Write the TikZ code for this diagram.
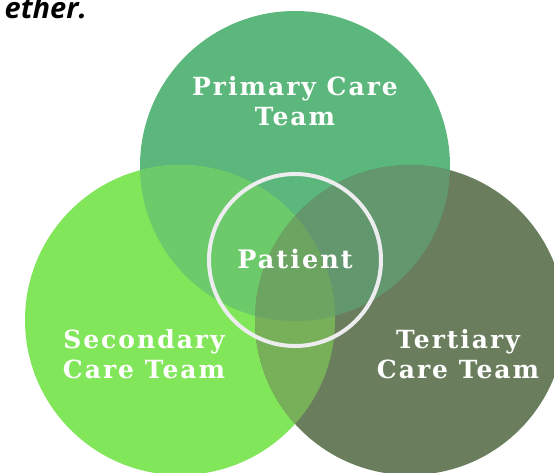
\documentclass[tikz,border=0pt]{standalone}
\usepackage{fontspec}
\newfontfamily\labelfont[LetterSpace=8]{DejaVu Serif}
\newfontfamily\titlefont{Open Sans}
\definecolor{colT}{HTML}{5BB77B}
\definecolor{colL}{HTML}{82E65A}
\definecolor{colR}{HTML}{6A7D5D}
\definecolor{colTL}{HTML}{6CCA6B}
\definecolor{colTR}{HTML}{63976E}
\definecolor{colLR}{HTML}{78B05A}
\definecolor{colTLR}{HTML}{6CA462}
\definecolor{ringcol}{HTML}{EDEDF0}
\tikzset{
  lbl/.style={text=white, inner sep=0pt, anchor=base, font=\labelfont\bfseries\fontsize{25}{30}\selectfont},
  plbl/.style={lbl, font=\labelfont\bfseries\fontsize{25.5}{30}\selectfont},
  ttl/.style={text=black, inner sep=0pt, anchor=base east, font=\titlefont\bfseries\itshape\fontsize{29}{34}\selectfont},
  ring/.style={draw=ringcol, line width=4pt}
}
\begin{document}
\begin{tikzpicture}[x=1pt,y=-1pt]
\useasboundingbox (0,0) rectangle (554,472);
\clip (0,0) rectangle (554,472);
\coordinate (cT) at (295,166);
\coordinate (cL) at (180,320);
\coordinate (cR) at (410,320);
\coordinate (cP) at (295,260);
% base circles
\fill[colT] (cT) circle[radius=155pt];
\fill[colL] (cL) circle[radius=155pt];
\fill[colR] (cR) circle[radius=155pt];
% pairwise overlaps
\begin{scope}
  \clip (cT) circle[radius=155pt];
  \fill[colTL] (cL) circle[radius=155pt];
  \fill[colTR] (cR) circle[radius=155pt];
\end{scope}
\begin{scope}
  \clip (cL) circle[radius=155pt];
  \fill[colLR] (cR) circle[radius=155pt];
  \clip (cR) circle[radius=155pt];
  \fill[colTLR] (cT) circle[radius=155pt];
\end{scope}
% ring
\node[ring, circle, minimum size=172pt, inner sep=0pt] (ringP) at (cP) {};
% labels
\node[lbl] (t1) at (295,95) {Primary Care};
\node[lbl] (t2) at (295,125) {Team};
\node[plbl] (p1) at (295,268) {Patient};
\node[lbl] (s1) at (144,348) {Secondary};
\node[lbl] (s2) at (144,378) {Care Team};
\node[lbl] (r1) at (458,348) {Tertiary};
\node[lbl] (r2) at (458,378) {Care Team};
\node[ttl] (title) at (87,18) {ether.};
\end{tikzpicture}
\end{document}
